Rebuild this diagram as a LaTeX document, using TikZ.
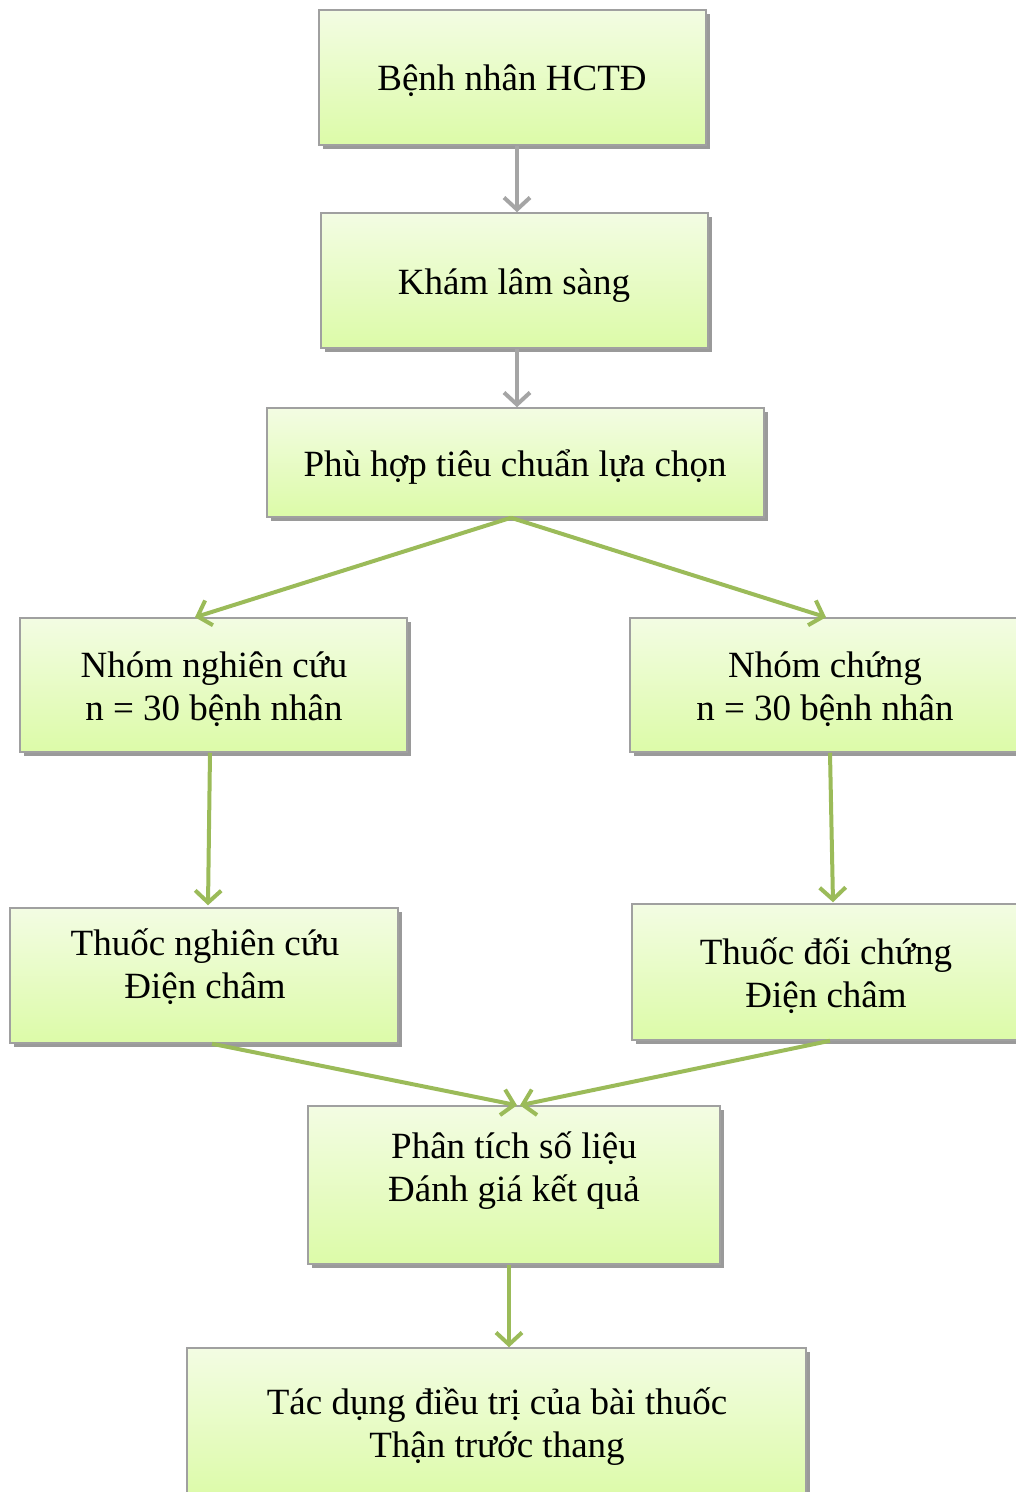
\documentclass[tikz,border=0pt]{standalone}
\usepackage{fontspec}
\setmainfont{Liberation Serif}
\usetikzlibrary{arrows.meta,shadows}
\definecolor{topc}{HTML}{F3FCE3}
\definecolor{botc}{HTML}{DCFBA8}
\definecolor{edgec}{HTML}{A0A0A0}
\definecolor{shadc}{HTML}{9A9A9A}
\definecolor{greenc}{HTML}{9BBB59}
\definecolor{greyc}{HTML}{A5A5A5}
\tikzset{
  box/.style={rectangle, draw=edgec, line width=1.5pt, top color=topc, bottom color=botc,
    drop shadow={shadow xshift=4pt, shadow yshift=-4pt, fill=shadc, opacity=1}, inner sep=0pt},
  txt/.style={align=center, font=\fontsize{37}{43}\selectfont, inner sep=0pt},
  garrow/.style={draw=greenc, line width=4pt, -{Straight Barb[length=12pt,width=26pt]}},
  grarrow/.style={draw=greyc, line width=4pt, -{Straight Barb[length=12pt,width=26pt]}}
}
\begin{document}
\begin{tikzpicture}[x=1pt,y=-1pt]
\useasboundingbox (0,0) rectangle (1016,1492);
\node[box, minimum width=387pt, minimum height=135pt] (b1) at (512.5,77.5) {};
\node[box, minimum width=387pt, minimum height=135pt] (b2) at (514.5,280.5) {};
\node[box, minimum width=497pt, minimum height=109pt] (b3) at (515.5,462.5) {};
\node[box, minimum width=387pt, minimum height=134pt] (b4) at (213.5,685) {};
\node[box, minimum width=390pt, minimum height=134pt] (b5) at (825,685) {};
\node[box, minimum width=388pt, minimum height=135pt] (b6) at (204,975.5) {};
\node[box, minimum width=388pt, minimum height=136pt] (b7) at (826,972) {};
\node[box, minimum width=412pt, minimum height=158pt] (b8) at (514,1185) {};
\node[box, minimum width=619pt, minimum height=152pt] (b9) at (496.5,1424) {};

\node[txt] (t1) at (512,80.5) {Bệnh nhân HCTĐ};
\node[txt] (t2) at (514,285.5) {Khám lâm sàng};
\node[txt] (t3) at (515,467.5) {Phù hợp tiêu chuẩn lựa chọn};
\node[txt] (t4) at (214,689.5) {Nhóm nghiên cứu\\n = 30 bệnh nhân};
\node[txt] (t5) at (825,689.5) {Nhóm chứng\\n = 30 bệnh nhân};
\node[txt] (t6) at (205,966.5) {Thuốc nghiên cứu\\Điện châm};
\node[txt] (t7) at (826,975.5) {Thuốc đối chứng\\Điện châm};
\node[txt] (t8) at (514,1170.5) {Phân tích số liệu\\Đánh giá kết quả};
\node[txt] (t9) at (497,1426.5) {Tác dụng điều trị của bài thuốc\\Thận trước thang};

\draw[grarrow] ([xshift=4.5pt]b1.south) -- ([xshift=2.5pt]b2.north);
\draw[grarrow] ([xshift=2.5pt]b2.south) -- ([xshift=1.5pt]b3.north);
\draw[garrow] ([xshift=-4.5pt]b3.south) -- ([xshift=-18.5pt]b4.north);
\draw[garrow] ([xshift=-4.5pt]b3.south) -- ([xshift=1pt]b5.north);
\draw[garrow] ([xshift=-3.5pt]b4.south) -- ([xshift=4pt,yshift=2pt]b6.north);
\draw[garrow] ([xshift=5pt]b5.south) -- ([xshift=7pt,yshift=1pt]b7.north);
\draw[garrow] ([xshift=8pt]b6.south) -- ([xshift=3pt]b8.north);
\draw[garrow] ([xshift=4pt]b7.south) -- ([xshift=6pt]b8.north);
\draw[garrow] ([xshift=-5pt]b8.south) -- ([xshift=12.5pt]b9.north);
\end{tikzpicture}
\end{document}
